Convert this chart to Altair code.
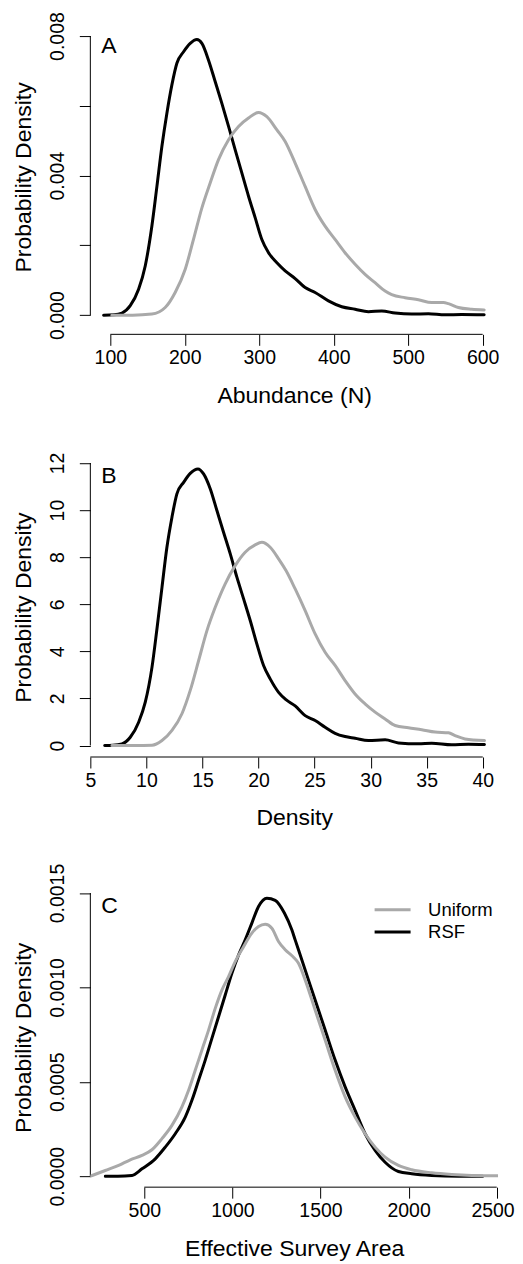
import altair as alt
import pandas as pd

FONT = "Liberation Sans"
GRAY = "#a9a9a9"
BLACK = "#000000"

series_names = ["Uniform", "RSF"]
panel_letters = ["A", "B", "C"]
x_titles = ["Abundance (N)", "Density", "Effective Survey Area"]
y_title = "Probability Density"

# ---------------- Panel A : Abundance ----------------
a_rsf_x = [91, 105, 115.7, 126.8, 138, 146.9, 155.8, 162.6, 169.3, 176, 182.7, 189.4, 198.4, 207.3,
           216.3, 223, 231.9, 240.9, 249.8, 258.8, 267.7, 276.7, 285.6, 294.6, 303.5, 312.5, 323.7,
           334.8, 348.2, 361.6, 375, 392.9, 410.8, 428.7, 446.6, 464.5, 482.4, 504.7, 527.1, 549.5,
           571.8, 602]
a_rsf_y = [0, 0.00001, 0.00006, 0.00027, 0.00074, 0.00141, 0.00255, 0.00369, 0.00484, 0.00579,
           0.0066, 0.00722, 0.00755, 0.00779, 0.0079, 0.00779, 0.00731, 0.00669, 0.00607, 0.00541,
           0.00474, 0.00407, 0.00341, 0.00279, 0.00217, 0.00179, 0.0015, 0.00127, 0.00105, 0.00079,
           0.00065, 0.00041, 0.00024, 0.00017, 0.0001, 0.00012, 0.00006, 0.00003, 0.00004, 0.00001,
           0.00002, 0.00001]
a_uni_x = [102, 130, 155.8, 173.7, 187.1, 200.5, 211.7, 222.9, 234.1, 245.3, 258.8, 272.2, 285.6,
           299, 310.2, 323.7, 334.8, 348.2, 361.6, 375, 388.4, 401.8, 415.2, 428.7, 442.1, 455.5,
           469, 477.9, 495.8, 513.7, 531.6, 547.3, 554, 567.4, 585.3, 602]
a_uni_y = [0, 0, 0.00003, 0.00022, 0.00065, 0.00131, 0.00217, 0.00307, 0.00379, 0.00446, 0.00503,
           0.00541, 0.00565, 0.00581, 0.00569, 0.00531, 0.00498, 0.00436, 0.00369, 0.00303, 0.00255,
           0.00217, 0.00179, 0.00146, 0.00117, 0.00093, 0.00069, 0.00059, 0.0005, 0.00044, 0.00036,
           0.00036, 0.00033, 0.00022, 0.00017, 0.00015]
a_xticks = [100, 200, 300, 400, 500, 600]
a_yticks = [0.0, 0.002, 0.004, 0.006, 0.008]
a_ylabels = ["0.000", "0.004", "0.008"]

# ---------------- Panel B : Density ----------------
b_rsf_x = [6.28, 7.0, 7.82, 8.56, 9.31, 9.9, 10.5, 10.94, 11.39, 11.83, 12.28, 12.72, 13.32, 13.91,
           14.6, 15.1, 15.7, 16.29, 16.88, 17.48, 18.07, 18.67, 19.26, 19.85, 20.45, 21.04, 21.79,
           22.45, 23.27, 24.16, 25.05, 25.94, 26.83, 27.72, 28.61, 29.8, 31.29, 32.48, 34.26, 35.45,
           37.23, 38.72, 40.15]
b_rsf_y = [0, 0.01, 0.07, 0.35, 0.99, 1.84, 3.33, 4.95, 6.72, 8.42, 9.7, 10.69, 11.18, 11.56, 11.75,
           11.54, 10.9, 9.98, 9.06, 8.14, 7.15, 6.23, 5.31, 4.32, 3.4, 2.83, 2.26, 1.95, 1.68, 1.27,
           1.06, 0.78, 0.52, 0.38, 0.31, 0.21, 0.24, 0.11, 0.07, 0.1, 0.03, 0.05, 0.04]
b_uni_x = [6.93, 9.0, 10.5, 11.39, 12.28, 13.17, 13.91, 14.66, 15.4, 16.14, 17.03, 17.92, 18.81,
           19.7, 20.3, 21.04, 21.79, 22.45, 23.27, 24.16, 25.05, 25.94, 26.83, 27.72, 28.61, 29.5,
           30.4, 31.29, 32.18, 33.37, 34.56, 35.75, 36.94, 37.53, 38.42, 40.15]
b_uni_y = [0, 0, 0.01, 0.21, 0.64, 1.35, 2.34, 3.61, 4.88, 5.87, 6.87, 7.64, 8.21, 8.52, 8.63, 8.42,
           7.93, 7.43, 6.65, 5.73, 4.74, 3.96, 3.4, 2.76, 2.19, 1.77, 1.42, 1.13, 0.85, 0.75, 0.67,
           0.57, 0.54, 0.42, 0.28, 0.21]
b_xticks = [5, 10, 15, 20, 25, 30, 35, 40]
b_yticks = [0, 2, 4, 6, 8, 10, 12]
b_ylabels = ["0", "2", "4", "6", "8", "10", "12"]

# ---------------- Panel C : Effective survey area ----------------
c_rsf_x = [279, 350, 430, 486.8, 562.4, 619.1, 675.8, 732.5, 770.3, 808.1, 845.9, 883.7, 921.5,
           959.3, 997.1, 1035, 1072.7, 1110.5, 1148.3, 1195.6, 1242.8, 1295, 1337.3, 1356.2, 1412.9,
           1469.6, 1526.4, 1583.1, 1639.8, 1696.5, 1753.2, 1809.9, 1866.6, 1942.2, 2017.8, 2131.3,
           2282.5, 2420]
c_rsf_y = [0, 0, 0.000004, 0.000039, 0.000092, 0.000154, 0.000225, 0.000313, 0.000402, 0.000508,
           0.000615, 0.00073, 0.000845, 0.00096, 0.001075, 0.001172, 0.001252, 0.001341, 0.001429,
           0.001473, 0.001461, 0.001394, 0.001305, 0.001252, 0.001093, 0.000933, 0.000774, 0.000615,
           0.000473, 0.000349, 0.000225, 0.000137, 0.000074, 0.000025, 0.000013, 0.000004, 0, 0]
c_uni_x = [193.8, 278.8, 354.4, 420.5, 486.8, 543.5, 600.2, 656.9, 713.6, 751.4, 789.2, 827, 864.8,
           902.6, 940.4, 978.2, 1016, 1063.3, 1110.5, 1148.3, 1186.1, 1223.9, 1261.7, 1299.5, 1346.7,
           1375.1, 1412.9, 1469.6, 1526.4, 1583.1, 1639.8, 1696.5, 1753.2, 1809.9, 1866.6, 1942.2,
           2017.8, 2131.3, 2244.7, 2358.2, 2510]
c_uni_y = [0, 0.00003, 0.000057, 0.000087, 0.00011, 0.00014, 0.000199, 0.000269, 0.000367, 0.000455,
           0.000561, 0.000668, 0.000774, 0.000889, 0.000986, 0.001057, 0.001137, 0.001216, 0.001288,
           0.001323, 0.001335, 0.001314, 0.001243, 0.0012, 0.00116, 0.001128, 0.00104, 0.00088,
           0.000721, 0.000561, 0.00042, 0.000313, 0.000225, 0.000154, 0.000101, 0.000057, 0.000034,
           0.000018, 0.000009, 0.000004, 0.000002]
c_xticks = [500, 1000, 1500, 2000, 2500]
c_yticks = [0.0, 0.0005, 0.001, 0.0015]
c_ylabels = ["0.0000", "0.0005", "0.0010", "0.0015"]

W, H = 408, 300
TICK = 11


def panel(letter, rx, ry, ux, uy, xdom, ydom, xticks, yticks, ylabels, yfmt, xtitle,
          xoffset=0, legend=False, flush=False):
    df = pd.concat([
        pd.DataFrame({"series": "RSF", "x": rx, "y": ry, "i": range(len(rx))}),
        pd.DataFrame({"series": "Uniform", "x": ux, "y": uy, "i": range(len(ux))}),
    ])
    labelled = "[" + ",".join("'%s'" % s for s in ylabels) + "]"
    xaxis_kw = dict(values=xticks, format="d", domain=False, grid=False,
                    offset=xoffset,
                    tickSize=TICK, tickColor=BLACK, tickWidth=1,
                    labelFont=FONT, labelFontSize=19.5, labelColor=BLACK,
                    labelBaseline="alphabetic", labelPadding=18.5,
                    labelOverlap=False, labelBound=False,
                    titleFont=FONT, titleFontSize=23, titleFontWeight="normal",
                    titleColor=BLACK, titleBaseline="alphabetic",
                    titleAlign="center", titleX=W / 2, titleY=68)
    if flush:
        xaxis_kw.update(labelFlush=2, labelFlushOffset=17.5)
    else:
        xaxis_kw.update(labelFlush=False)
    xenc = alt.X("x:Q", title=xtitle,
                 scale=alt.Scale(domain=xdom, nice=False, zero=False),
                 axis=alt.Axis(**xaxis_kw))
    yenc = alt.Y("y:Q", title=y_title,
                 scale=alt.Scale(domain=ydom, nice=False, zero=False),
                 axis=alt.Axis(values=yticks, format=yfmt, domain=False, grid=False,
                               labelExpr="indexof(%s, datum.label) >= 0 ? datum.label : ''" % labelled,
                               tickSize=TICK, tickColor=BLACK, tickWidth=1,
                               labelFont=FONT, labelFontSize=19.5, labelColor=BLACK,
                               labelAngle=270, labelAlign="center", labelBaseline="alphabetic",
                               labelPadding=15.7,
                               labelFlush=False, labelOverlap=False, labelBound=False,
                               titleFont=FONT, titleFontSize=23, titleFontWeight="normal",
                               titleColor=BLACK, titleAngle=270, titleAlign="center",
                               titleBaseline="alphabetic", titleX=-60.2, titleY=H / 2))
    if legend:
        leg = alt.Legend(title=None, orient="none", legendX=283, legendY=12.3,
                         symbolType="stroke", symbolSize=1296, symbolStrokeWidth=3,
                         labelFont=FONT, labelFontSize=18.5, labelColor=BLACK,
                         labelOffset=16, clipHeight=20, rowPadding=2.4, padding=0)
    else:
        leg = None
    color = alt.Color("series:N",
                      scale=alt.Scale(domain=series_names, range=[GRAY, BLACK]),
                      legend=leg)
    lines = alt.Chart(df).mark_line(strokeWidth=3, clip=True, interpolate="monotone",
                                    strokeCap="round", strokeJoin="round").encode(
        x=xenc, y=yenc, color=color, order=alt.Order("i:Q"))

    xr = alt.Chart(pd.DataFrame({"x": [xticks[0]], "x2": [xticks[-1]]})).mark_rule(
        color=BLACK, strokeWidth=1).encode(x=xenc, x2="x2:Q", y=alt.value(H + xoffset))
    yr = alt.Chart(pd.DataFrame({"y": [yticks[0]], "y2": [yticks[-1]]})).mark_rule(
        color=BLACK, strokeWidth=1).encode(y=yenc, y2="y2:Q", x=alt.value(0))
    lab = alt.Chart(pd.DataFrame({"t": [letter]})).mark_text(
        font=FONT, fontSize=23, align="left", baseline="alphabetic", color=BLACK).encode(
        text="t:N", x=alt.value(11), y=alt.value(26))
    return alt.layer(xr, yr, lines, lab).properties(width=W, height=H)


pa = panel(panel_letters[0], a_rsf_x, a_rsf_y, a_uni_x, a_uni_y, [73.2, 620.6],
           [-0.000335, 0.008258], a_xticks, a_yticks, a_ylabels, ".3f", x_titles[0], xoffset=7.5)
pb = panel(panel_letters[1], b_rsf_x, b_rsf_y, b_uni_x, b_uni_y, [5.0, 41.36],
           [-0.488, 12.245], b_xticks, b_yticks, b_ylabels, "d", x_titles[1])
pc = panel(panel_letters[2], c_rsf_x, c_rsf_y, c_uni_x, c_uni_y, [193.8, 2507.4],
           [-0.0000582, 0.00153], c_xticks, c_yticks, c_ylabels, ".4f", x_titles[2],
           legend=True, flush=True)

chart = alt.vconcat(pa, pb, pc, spacing=130.5, bounds="flush").resolve_scale(
    x="independent", y="independent", color="independent").properties(
    padding={"left": 3.4, "top": 2.6, "right": 0, "bottom": 0}, background="white"
).configure_view(strokeWidth=0)

chart.save("out.html", embed_options={"renderer": "svg", "actions": False})
